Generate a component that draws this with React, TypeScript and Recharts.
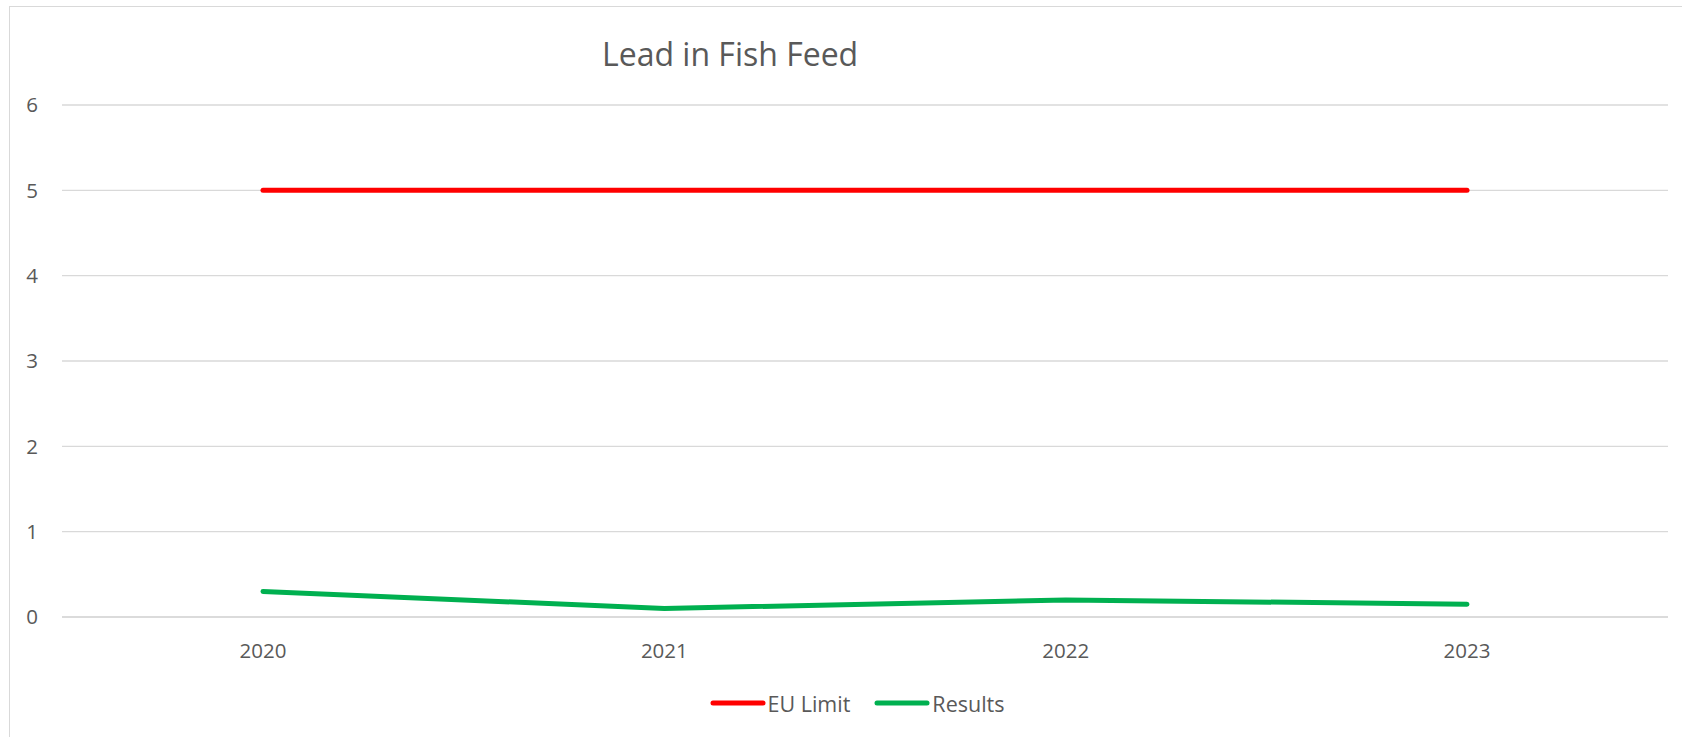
import { LineChart, Line, XAxis, YAxis, CartesianGrid, Legend } from "recharts";

const years = ["2020", "2021", "2022", "2023"];
const euLimit = [5, 5, 5, 5];
const results = [0.3, 0.1, 0.2, 0.15];
const yTicks = [0, 1, 2, 3, 4, 5, 6];

const data = years.map((year, i) => ({
  year,
  "EU Limit": euLimit[i],
  Results: results[i],
}));

const FONT = "'Open Sans', sans-serif";
const GREY = "#595959";

function LegendContent() {
  const items = [
    { label: "EU Limit", color: "#ff0000" },
    { label: "Results", color: "#00b050" },
  ];
  return (
    <div style={{ display: "flex", justifyContent: "center", alignItems: "center", paddingLeft: 56, height: 28 }}>
      {items.map((it) => (
        <div key={it.label} style={{ display: "flex", alignItems: "center", marginRight: 24 }}>
          <svg width={56} height={8}>
            <line x1={3} y1={4} x2={53} y2={4} stroke={it.color} strokeWidth={5} strokeLinecap="round" />
          </svg>
          <span style={{ fontFamily: FONT, fontSize: 21.5, color: GREY, marginLeft: 2 }}>{it.label}</span>
        </div>
      ))}
    </div>
  );
}

export default function App() {
  return (
    <div style={{ position: "absolute", left: 0, top: 0, width: 1682, height: 737, background: "#fff", overflow: "hidden" }}>
      <div
        style={{
          position: "absolute",
          left: 9,
          top: 6,
          width: 1680,
          height: 740,
          borderLeft: "1.5px solid #d9d9d9",
          borderTop: "1.5px solid #d9d9d9",
        }}
      />
      <div
        style={{
          position: "absolute",
          left: 602,
          top: 33,
          fontFamily: FONT,
          fontSize: 32,
          color: GREY,
          lineHeight: "42px",
          whiteSpace: "nowrap",
        }}
      >
        Lead in Fish Feed
      </div>
      <LineChart
        width={1682}
        height={737}
        data={data}
        margin={{ top: 105, right: 14, left: 0, bottom: 52 }}
        style={{ position: "absolute", left: 0, top: 0 }}
      >
        <CartesianGrid vertical={false} stroke="#d9d9d9" strokeWidth={1.3} />
        <XAxis
          dataKey="year"
          padding={{ left: 201, right: 201 }}
          axisLine={{ stroke: "#d9d9d9", strokeWidth: 1.3 }}
          tickLine={false}
          tickSize={0}
          tickMargin={26}
          height={40}
          tick={{ fill: GREY, fontSize: 20.5, fontFamily: FONT }}
        />
        <YAxis
          domain={[0, 6]}
          ticks={yTicks}
          width={62}
          axisLine={false}
          tickLine={false}
          tickSize={0}
          tickMargin={24}
          tick={{ fill: GREY, fontSize: 20.5, fontFamily: FONT }}
        />
        <Legend
          content={<LegendContent />}
          wrapperStyle={{ position: "absolute", top: 689, left: 0, width: 1682, height: 28 }}
        />
        <Line
          type="linear"
          dataKey="EU Limit"
          stroke="#ff0000"
          strokeWidth={5}
          strokeLinecap="round"
          dot={false}
          activeDot={false}
          isAnimationActive={false}
        />
        <Line
          type="linear"
          dataKey="Results"
          stroke="#00b050"
          strokeWidth={5}
          strokeLinecap="round"
          dot={false}
          activeDot={false}
          isAnimationActive={false}
        />
      </LineChart>
    </div>
  );
}
